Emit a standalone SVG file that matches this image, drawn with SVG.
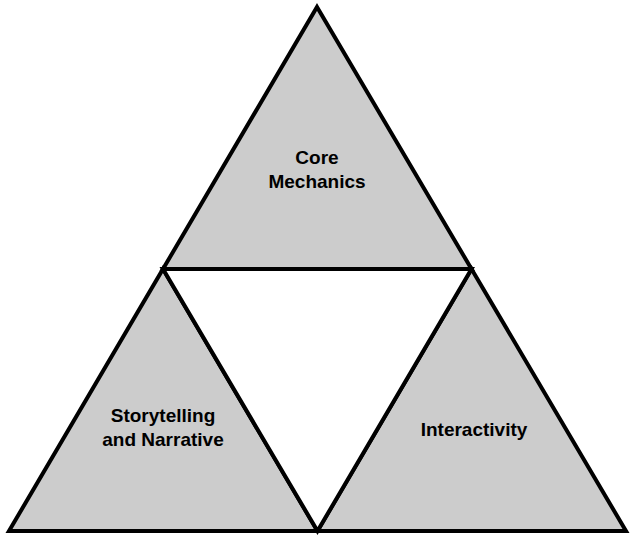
<svg xmlns="http://www.w3.org/2000/svg" width="634" height="540" viewBox="0 0 634 540">
<style>
.tri{fill:#cccccc;stroke:#000;stroke-width:4;stroke-linejoin:miter}
.hole{fill:#ffffff;stroke:#000;stroke-width:4}
.lbl{font-family:"Liberation Sans",Arial,sans-serif;font-weight:bold;font-size:19px;fill:#000;text-anchor:middle}
</style>
<rect width="634" height="540" fill="#ffffff"/>
<g id="top">
<polygon class="tri" points="317,7 471.5,269 163,269"/>
<text class="lbl" x="317" y="164">Core</text>
<text class="lbl" x="317" y="188">Mechanics</text>
</g>
<g id="left">
<polygon class="tri" points="163,269 317.5,531 9,531"/>
<text class="lbl" x="163" y="422">Storytelling</text>
<text class="lbl" x="163" y="446">and Narrative</text>
</g>
<g id="right">
<polygon class="tri" points="471.5,269 626,531 317.5,531"/>
<text class="lbl" x="474" y="436">Interactivity</text>
</g>
<g id="connectors">
<polygon class="hole" points="163,269 471.5,269 317.5,531"/>
</g>
</svg>
